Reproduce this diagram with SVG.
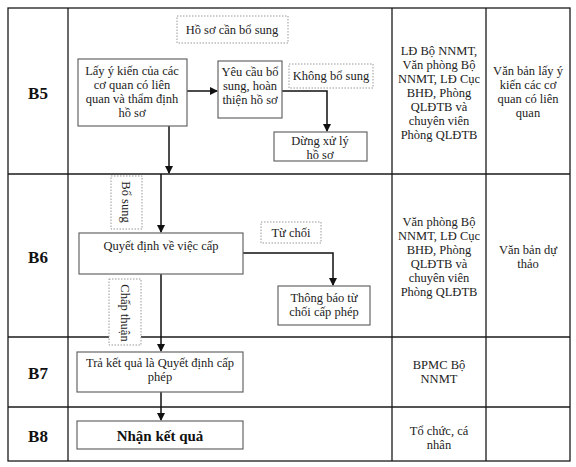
<svg xmlns="http://www.w3.org/2000/svg" width="576" height="467" viewBox="0 0 576 467">
<defs>
<style>
.grid{stroke:#1a1a1a;stroke-width:1.3;fill:none}
.box{fill:#fff;stroke:#666;stroke-width:1.2}
.dot{fill:#fff;stroke:#999;stroke-width:1;stroke-dasharray:1.5 1.5}
.t{font-family:"Liberation Serif","Times New Roman",serif;font-size:12.5px;fill:#222;text-anchor:middle}
.b{font-family:"Liberation Serif","Times New Roman",serif;font-size:17px;font-weight:bold;fill:#111;text-anchor:middle}
.line{stroke:#111;stroke-width:1.5;fill:none}
</style>
<marker id="ah" markerWidth="8" markerHeight="8" refX="7" refY="4" orient="auto" markerUnits="userSpaceOnUse">
<path d="M0,0 L8,4 L0,8 Z" fill="#111"/>
</marker>
</defs>
<rect width="576" height="467" fill="#fff"/>
<g id="table">
<rect class="grid" x="8" y="8" width="562" height="453"/>
<line class="grid" x1="68" y1="8" x2="68" y2="461"/>
<line class="grid" x1="392" y1="8" x2="392" y2="461"/>
<line class="grid" x1="486" y1="8" x2="486" y2="461"/>
<line class="grid" x1="8" y1="174" x2="570" y2="174"/>
<line class="grid" x1="8" y1="337" x2="570" y2="337"/>
<line class="grid" x1="8" y1="407" x2="570" y2="407"/>
<text class="b" x="38" y="99">B5</text>
<text class="b" x="38" y="263">B6</text>
<text class="b" x="38" y="379">B7</text>
<text class="b" x="38" y="442">B8</text>
<text class="t" x="439"><tspan x="439" y="55">LĐ Bộ NNMT,</tspan><tspan x="439" y="69">Văn phòng Bộ</tspan><tspan x="439" y="83">NNMT, LĐ Cục</tspan><tspan x="439" y="97">BHĐ, Phòng</tspan><tspan x="439" y="111">QLĐTB và</tspan><tspan x="439" y="125">chuyên viên</tspan><tspan x="439" y="139">Phòng QLĐTB</tspan></text>
<text class="t"><tspan x="528" y="75">Văn bản lấy ý</tspan><tspan x="528" y="89">kiến các cơ</tspan><tspan x="528" y="103">quan có liên</tspan><tspan x="528" y="117">quan</tspan></text>
<text class="t"><tspan x="439" y="226">Văn phòng Bộ</tspan><tspan x="439" y="240">NNMT, LĐ Cục</tspan><tspan x="439" y="254">BHĐ, Phòng</tspan><tspan x="439" y="268">QLĐTB và</tspan><tspan x="439" y="282">chuyên viên</tspan><tspan x="439" y="296">Phòng QLĐTB</tspan></text>
<text class="t"><tspan x="528" y="254">Văn bản dự</tspan><tspan x="528" y="268">thảo</tspan></text>
<text class="t"><tspan x="439" y="369">BPMC Bộ</tspan><tspan x="439" y="383">NNMT</tspan></text>
<text class="t"><tspan x="439" y="435">Tổ chức, cá</tspan><tspan x="439" y="449">nhân</tspan></text>
</g>
<g id="connectors">
<line class="line" x1="187" y1="91" x2="217" y2="91" marker-end="url(#ah)"/>
<polyline class="line" points="282,91 327,91 327,131" marker-end="url(#ah)"/>
<line class="line" x1="169" y1="126" x2="169" y2="173" marker-end="url(#ah)"/>
<line class="line" x1="161" y1="174" x2="161" y2="232" marker-end="url(#ah)"/>
<polyline class="line" points="243,253 333,253 333,285" marker-end="url(#ah)"/>
<line class="line" x1="161" y1="274" x2="161" y2="351" marker-end="url(#ah)"/>
<line class="line" x1="161" y1="392" x2="161" y2="420" marker-end="url(#ah)"/>
</g>
<g id="n-hoso-bosung">
<rect class="dot" x="177" y="16" width="111" height="27"/>
<text class="t" x="232" y="34">Hồ sơ cần bổ sung</text>
</g>
<g id="n-layykien">
<rect class="box" x="78" y="59" width="109" height="67"/>
<text class="t"><tspan x="132" y="75">Lấy ý kiến của các</tspan><tspan x="132" y="89">cơ quan có liên</tspan><tspan x="132" y="103">quan và thẩm định</tspan><tspan x="132" y="117">hồ sơ</tspan></text>
</g>
<g id="n-yeucau">
<rect class="box" x="218" y="61" width="64" height="57"/>
<text class="t"><tspan x="250" y="76">Yêu cầu bổ</tspan><tspan x="250" y="90">sung, hoàn</tspan><tspan x="250" y="104">thiện hồ sơ</tspan></text>
</g>
<g id="n-khongbosung">
<rect class="dot" x="289" y="64" width="84" height="24"/>
<text class="t" x="331" y="80">Không bổ sung</text>
</g>
<g id="n-dungxuly">
<rect class="box" x="274" y="132" width="93" height="29"/>
<text class="t"><tspan x="320" y="145">Dừng xử lý</tspan><tspan x="320" y="159">hồ sơ</tspan></text>
</g>
<g id="n-bosung">
<rect class="dot" x="111" y="176" width="31" height="53"/>
<text class="t" transform="translate(126,202) rotate(90)" x="0" y="4">Bổ sung</text>
</g>
<g id="n-quyetdinh">
<rect class="box" x="79" y="233" width="164" height="41"/>
<text class="t" x="161" y="250">Quyết định về việc cấp</text>
</g>
<g id="n-tuchoi">
<rect class="dot" x="261" y="222" width="60" height="21"/>
<text class="t" x="291" y="237">Từ chối</text>
</g>
<g id="n-thongbao">
<rect class="box" x="278" y="286" width="92" height="39"/>
<text class="t"><tspan x="324" y="302">Thông báo từ</tspan><tspan x="324" y="316">chối cấp phép</tspan></text>
</g>
<g id="n-chapthuan">
<rect class="dot" x="109" y="279" width="32" height="66"/>
<text class="t" transform="translate(125,313) rotate(90)" x="0" y="4">Chấp thuận</text>
</g>
<g id="n-traketqua">
<rect class="box" x="77" y="352" width="166" height="40"/>
<text class="t"><tspan x="160" y="367">Trả kết quả là Quyết định cấp</tspan><tspan x="160" y="381">phép</tspan></text>
</g>
<g id="n-nhanketqua">
<rect class="box" x="77" y="421" width="166" height="28"/>
<text class="b" x="160" y="441" style="font-size:15px">Nhận kết quả</text>
</g>
</svg>
